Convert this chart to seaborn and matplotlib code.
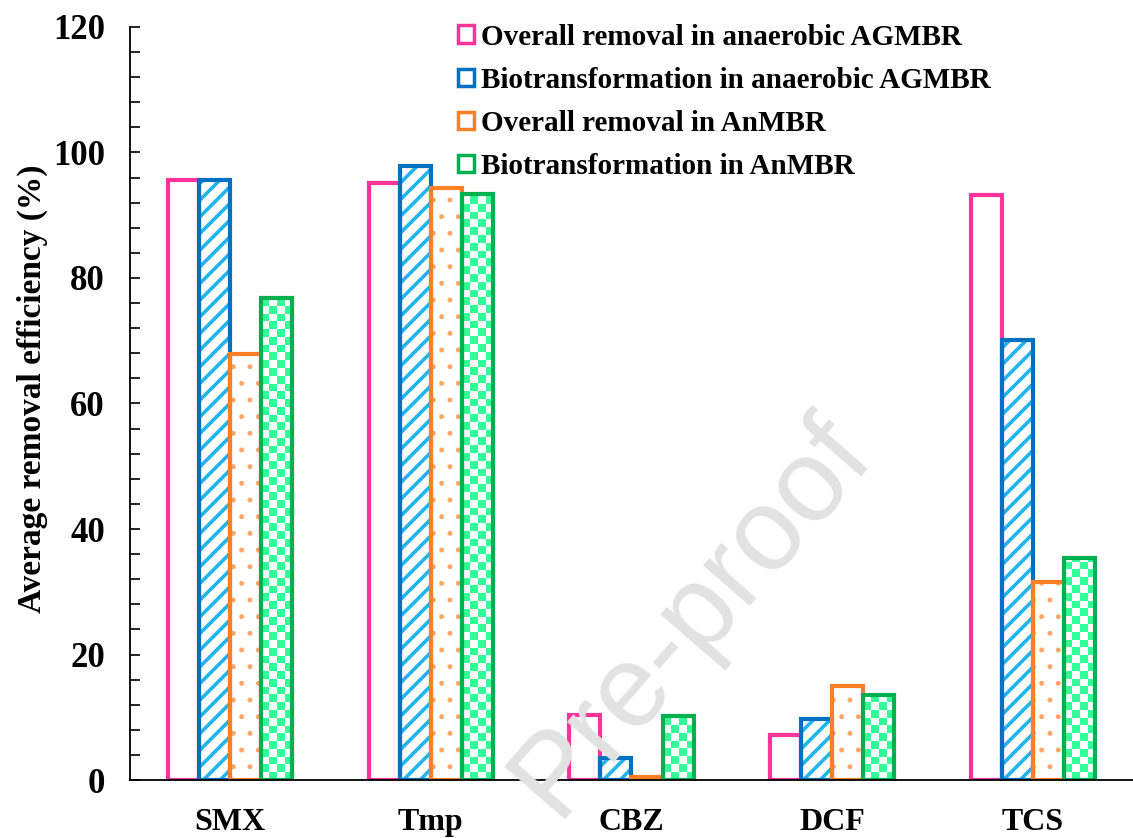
import numpy as np
import pandas as pd
import matplotlib
matplotlib.use("Agg")
import matplotlib.pyplot as plt
import seaborn as sns
from matplotlib.colors import ListedColormap
from matplotlib.patches import Patch
from matplotlib.ticker import MultipleLocator

# Data
compounds = ["SMX", "Tmp", "CBZ", "DCF", "TCS"]
series = [
    "Overall removal in anaerobic AGMBR",
    "Biotransformation in anaerobic AGMBR",
    "Overall removal in AnMBR",
    "Biotransformation in AnMBR",
]
overall_agmbr = [95.6, 95.1, 10.4, 7.2, 93.2]
bio_agmbr = [95.6, 97.8, 3.5, 9.7, 70.1]
overall_anmbr = [67.9, 94.3, 0.5, 15.0, 31.6]
bio_anmbr = [76.8, 93.4, 10.2, 13.5, 35.4]

edge_colors = ["#FF3399", "#0070C0", "#FF7F27", "#00B050"]
fill_colors = ["#FFFFFF", "#22B4EE", "#F9A66C", "#33FF99"]
hatches = ["", "//", ".", ""]
hatch_lw = [1, 2.6, 1.1, 1]

df = pd.DataFrame({
    "compound": compounds * 4,
    "series": np.repeat(series, len(compounds)),
    "value": overall_agmbr + bio_agmbr + overall_anmbr + bio_anmbr,
})

sns.set_style("white")
plt.rcParams["font.family"] = ["Liberation Serif", "DejaVu Serif"]
plt.rcParams["font.weight"] = "bold"
plt.rcParams["text.color"] = "black"
plt.rcParams["axes.labelcolor"] = "black"
plt.rcParams["xtick.color"] = "black"
plt.rcParams["ytick.color"] = "black"
plt.rcParams["hatch.linewidth"] = 2.6

fig = plt.figure(figsize=(11.33, 8.38), dpi=100)
ax = fig.add_axes([0.1147, 0.0692, 0.8853, 0.8986])

# pass 1: hatch fill
sns.barplot(data=df, x="compound", y="value", hue="series", hue_order=series,
            palette=fill_colors, width=0.62, saturation=1, legend=False,
            linewidth=0, ax=ax)
for i, cont in enumerate(ax.containers):
    for bar in cont:
        bar.set_facecolor("white")
        bar.set_edgecolor(fill_colors[i])
        bar.set_linewidth(0)
        bar.set_hatch(hatches[i])
        if hasattr(bar, "set_hatch_linewidth"):
            bar.set_hatch_linewidth(hatch_lw[i])

ax.set_xlim(-0.5, 4.5)
ax.set_ylim(0, 120)
fig.canvas.draw()

# checkerboard for the AnMBR biotransformation bars
px_per_x = ax.bbox.width / 5.0
px_per_y = ax.bbox.height / 120.0
checker = ListedColormap(["white", fill_colors[3]])
for bar in ax.containers[3]:
    x0, w, h = bar.get_x(), bar.get_width(), bar.get_height()
    nx = 4
    cell_px = w * px_per_x / nx
    cell_h = cell_px / px_per_y
    ny = int(np.ceil(h / cell_h)) + 1
    arr = np.indices((ny, nx)).sum(axis=0) % 2
    im = ax.imshow(arr, cmap=checker, extent=(x0, x0 + w, 0, ny * cell_h),
                   origin="lower", aspect="auto", interpolation="nearest",
                   zorder=1.5)
    im.set_clip_path(bar)

# pass 2: outlines
sns.barplot(data=df, x="compound", y="value", hue="series", hue_order=series,
            palette=edge_colors, width=0.62, saturation=1, legend=False,
            fill=False, linewidth=3, ax=ax)
for p in ax.patches[len(df):]:
    p.set_zorder(2)

ax.set_xlim(-0.5, 4.5)
ax.set_ylim(0, 120)

for s in ["top", "right"]:
    ax.spines[s].set_visible(False)
for s in ["left", "bottom"]:
    ax.spines[s].set_linewidth(1.3)
    ax.spines[s].set_color("black")

ax.yaxis.set_major_locator(MultipleLocator(20))
ax.yaxis.set_minor_locator(MultipleLocator(4))
ax.tick_params(axis="y", which="both", direction="in", length=7, width=1.2,
               labelsize=25, pad=18, left=True)
ax.tick_params(axis="x", which="major", direction="in", length=5, width=1.2,
               labelsize=23, pad=20, bottom=True)
for lab in ax.get_xticklabels() + ax.get_yticklabels():
    lab.set_fontweight("bold")

ax.set_xlabel("")
ax.set_ylabel("Average removal efficiency (%)", fontsize=24, fontweight="bold")
ax.yaxis.set_label_coords(-0.082, 0.52)

handles = [Patch(facecolor="white", edgecolor=edge_colors[i], linewidth=2.5,
                 label=series[i]) for i in range(4)]
leg = ax.legend(handles=handles, loc="upper left", bbox_to_anchor=(0.315, 1.02),
                frameon=False, prop={"size": 21, "weight": "bold"},
                handlelength=0.55, handleheight=0.55, handletextpad=0.25,
                labelspacing=0.55, borderaxespad=0)

fig.text(0.61, 0.265, "Pre-proof", fontsize=84, color="#E2E2E2",
         family="Liberation Sans", fontweight="normal", rotation=49,
         ha="center", va="center", zorder=0)

fig.savefig("out.png", dpi=100)
